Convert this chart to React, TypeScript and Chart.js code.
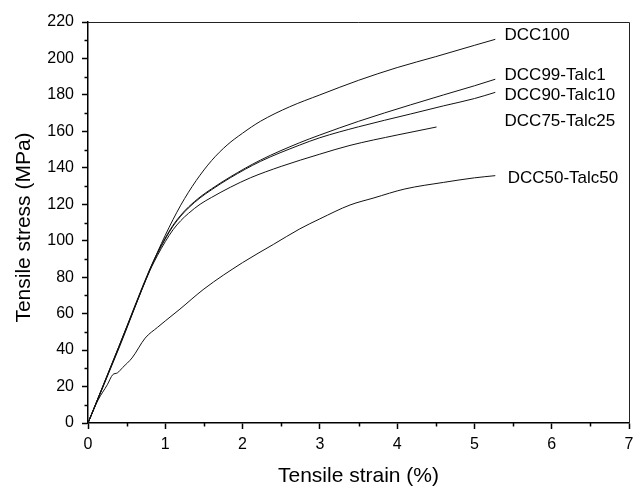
import React, { useEffect, useRef } from "react";
import { Chart, registerables } from "chart.js";

Chart.register(...registerables);

const dcc100Strain = [0, 0.2, 0.4, 0.6, 0.8, 1.0, 1.2, 1.4, 1.6, 1.8, 2.0, 2.23, 2.61, 3.0, 3.5, 4.0, 4.5, 5.0, 5.27];
const dcc100Stress = [0, 21, 42, 63, 84, 103, 119.5, 133, 144, 152.5, 159, 165.5, 173.5, 180, 188, 195, 201, 207.2, 210.5];

const dcc99Strain = [0, 0.4, 0.8, 0.9, 1.0, 1.1, 1.2, 1.3, 1.45, 1.6, 1.84, 2.23, 2.74, 3.0, 3.5, 4.17, 4.6, 5.0, 5.27];
const dcc99Stress = [0, 42, 84.5, 93.5, 101.5, 108.5, 114, 118.5, 124, 128.5, 135, 144.2, 153.8, 158, 165.5, 174.5, 180, 185, 188.6];

const dcc90Strain = [0, 0.4, 0.8, 0.9, 1.0, 1.1, 1.2, 1.3, 1.45, 1.6, 1.84, 2.23, 2.74, 3.0, 3.5, 4.17, 4.6, 5.0, 5.27];
const dcc90Stress = [0, 41.5, 84, 93, 101, 108, 113.5, 118, 123.5, 128, 134.5, 143.5, 152.5, 156.5, 162.5, 169.5, 174, 178, 181.4];

const dcc75Strain = [0, 0.4, 0.8, 0.9, 1.0, 1.1, 1.2, 1.3, 1.45, 1.6, 1.84, 2.1, 2.5, 3.0, 3.39, 4.0, 4.51];
const dcc75Stress = [0, 41, 83.5, 92, 99.5, 106, 111, 115, 120, 123.8, 129.3, 134.5, 140.8, 147.5, 152.3, 158, 162.4];

const dcc50Strain = [0, 0.13, 0.25, 0.32, 0.38, 0.45, 0.57, 0.74, 0.9, 1.0, 1.19, 1.5, 2.0, 2.4, 2.74, 3.0, 3.39, 3.7, 4.1, 4.6, 5.0, 5.27];
const dcc50Stress = [0, 12.6, 21, 26.5, 27.5, 30.5, 35.7, 46.6, 52.5, 56, 62.5, 73.5, 88, 98, 106.5, 112, 119.6, 123.5, 128.4, 132, 134.5, 135.7];

const seriesNames = ["DCC100", "DCC99-Talc1", "DCC90-Talc10", "DCC75-Talc25", "DCC50-Talc50"];
const labelStrain = [5.39, 5.39, 5.39, 5.39, 5.43];
const labelStress = [212.9, 190.9, 180, 165.3, 134.1];

const xTitle = "Tensile strain (%)";
const yTitle = "Tensile stress (MPa)";

const FONT = "Arial, 'Liberation Sans', sans-serif";

function pts(xs: number[], ys: number[]) {
  return xs.map((x, i) => ({ x, y: ys[i] }));
}

export default function App() {
  const ref = useRef<HTMLCanvasElement | null>(null);
  useEffect(() => {
    if (!ref.current) return;
    const all = [
      pts(dcc100Strain, dcc100Stress),
      pts(dcc99Strain, dcc99Stress),
      pts(dcc90Strain, dcc90Stress),
      pts(dcc75Strain, dcc75Stress),
      pts(dcc50Strain, dcc50Stress),
    ];
    const decor = {
      id: "decor",
      afterDraw(chart: any) {
        const ctx = chart.ctx;
        const { left, right, top, bottom } = chart.chartArea;
        const xs = chart.scales.x;
        const ys = chart.scales.y;
        ctx.save();
        ctx.strokeStyle = "#222";
        ctx.lineWidth = 1;
        ctx.beginPath();
        ctx.moveTo(left, top + 0.5);
        ctx.lineTo(right + 0.5, top + 0.5);
        ctx.lineTo(right + 0.5, bottom);
        ctx.stroke();
        ctx.strokeStyle = "#000";
        ctx.lineWidth = 1.5;
        ctx.beginPath();
        for (let v = 0.5; v < 7; v += 1) {
          const px = Math.round(xs.getPixelForValue(v)) + 0.5;
          ctx.moveTo(px, bottom);
          ctx.lineTo(px, bottom + 3.5);
        }
        for (let v = 10; v < 220; v += 20) {
          const py = Math.round(ys.getPixelForValue(v)) + 0.5;
          ctx.moveTo(left, py);
          ctx.lineTo(left - 3.5, py);
        }
        ctx.stroke();
        ctx.fillStyle = "#000";
        ctx.font = `17px ${FONT}`;
        ctx.textAlign = "left";
        ctx.textBaseline = "middle";
        seriesNames.forEach((n, i) => {
          ctx.fillText(n, xs.getPixelForValue(labelStrain[i]), ys.getPixelForValue(labelStress[i]));
        });
        ctx.font = `21px ${FONT}`;
        ctx.textAlign = "center";
        ctx.fillText(xTitle, (left + right) / 2, 476);
        ctx.translate(24, (top + bottom) / 2 + 5);
        ctx.rotate(-Math.PI / 2);
        ctx.fillText(yTitle, 0, 0);
        ctx.restore();
      },
    };
    const chart = new Chart(ref.current, {
      type: "line",
      data: {
        datasets: all.map((d, i) => ({
          label: seriesNames[i],
          data: d,
          borderColor: "#111",
          borderWidth: 1,
          pointRadius: 0,
          fill: false,
          cubicInterpolationMode: "monotone" as const,
        })),
      },
      options: {
        animation: false,
        responsive: false,
        devicePixelRatio: 1,
        layout: { padding: { top: 22, right: 7, left: 0, bottom: 0 } },
        plugins: { legend: { display: false }, tooltip: { enabled: false } },
        scales: {
          x: {
            type: "linear",
            min: 0,
            max: 7,
            afterFit: (s: any) => { s.height = 65; s.paddingRight = 0; s.paddingLeft = 0; },
            ticks: { stepSize: 1, color: "#000", font: { family: FONT, size: 16 }, padding: 6, maxRotation: 0 },
            grid: { drawOnChartArea: false, drawTicks: true, tickLength: 6, color: "#000", tickWidth: 1.5 },
            border: { color: "#000", width: 1.5 },
          },
          y: {
            type: "linear",
            min: 0,
            max: 220,
            afterFit: (s: any) => { s.width = 88; s.paddingTop = 0; s.paddingBottom = 0; },
            ticks: { stepSize: 20, color: "#000", font: { family: FONT, size: 16 }, padding: 8 },
            grid: { drawOnChartArea: false, drawTicks: true, tickLength: 6, color: "#000", tickWidth: 1.5 },
            border: { color: "#000", width: 1.5 },
          },
        },
      },
      plugins: [decor],
    });
    return () => chart.destroy();
  }, []);
  return (
    <div style={{ position: "absolute", left: 0, top: 0, width: 636, height: 488, background: "#fff" }}>
      <canvas ref={ref} width={636} height={488} style={{ width: 636, height: 488 }} />
    </div>
  );
}
